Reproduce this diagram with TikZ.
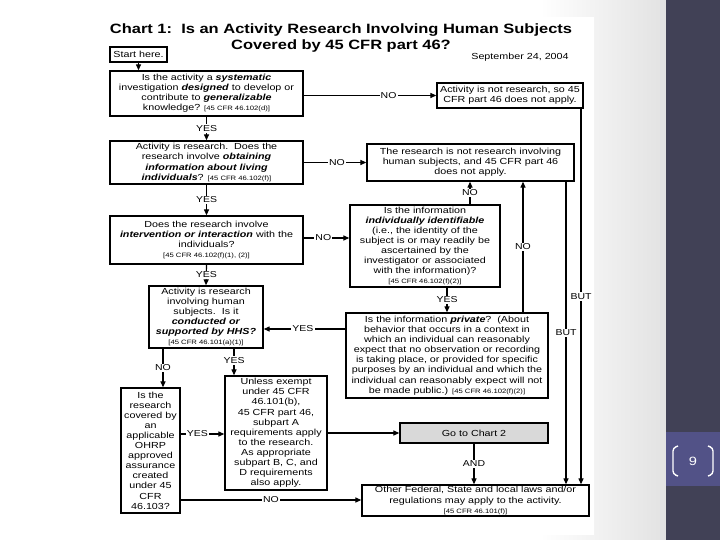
\documentclass[tikz,border=0pt]{standalone}
\usepackage{fontspec}
\setmainfont{Liberation Sans}[FakeStretch=1.22]
\usetikzlibrary{arrows.meta}
\definecolor{strip}{RGB}{65,65,86}
\definecolor{band}{RGB}{82,82,135}
\definecolor{bggray}{RGB}{226,226,226}
\definecolor{gofill}{RGB}{217,217,217}
\newcommand{\bix}[1]{\textbf{\textit{#1}}}
\newcommand{\rfs}{\fontsize{6.3}{8}\selectfont}
\newcommand{\bxf}{\fontsize{8.8}{10.1}\selectfont}
\begin{document}
\begin{tikzpicture}[x=1pt,y=-1pt,
  box/.style={draw, line width=1.3pt, inner sep=0pt, align=center, font=\bxf},
  conn/.style={line width=1.2pt, -{Triangle[length=6pt,width=5pt]}},
  lbl/.style={fill=white, inner sep=1.2pt, font=\fontsize{8.6}{9}\selectfont}]
\useasboundingbox (0,0) rectangle (720,540);
\fill[white] (0,0) rectangle (720,540);
\shade[left color=white, right color=bggray] (540,0) rectangle (666,540);
\fill[white] (95,17) rectangle (594,535);
\fill[strip] (666,0) rectangle (720,540);
\fill[band] (666,432) rectangle (720,486);
\draw[white, line width=1.4pt, rounded corners=3pt] (678,446) -- (673,448) -- (673,474) -- (678,476);
\draw[white, line width=1.4pt, rounded corners=3pt] (708,446) -- (713,448) -- (713,474) -- (708,476);
\node[text=white, font=\fontsize{12}{14}\selectfont] (pg) at (693,461) {9};

\node[font=\fontsize{13.5}{16}\selectfont\bfseries, align=center] (title) at (341,38)
  {Chart 1:\ \ Is an Activity Research Involving Human Subjects\\Covered by 45 CFR part 46?};
\node[font=\fontsize{8.8}{10}\selectfont] (date) at (520,57) {September 24, 2004};

\node[box, minimum width=57pt, minimum height=15pt] (start) at (138.5,54.5) {Start here.};
\node[box, minimum width=193pt, minimum height=45pt] (b1) at (206.5,93.5)
  {Is the activity a \bix{systematic}\\investigation \bix{designed} to develop or\\contribute to \bix{generalizable}\\knowledge? {\rfs[45 CFR 46.102(d)]}};
\node[box, minimum width=146pt, minimum height=25pt] (notres) at (510,95.5)
  {Activity is not research, so 45\\CFR part 46 does not apply.};
\node[box, minimum width=193pt, minimum height=43pt] (b2) at (206.5,162.5)
  {Activity is research.\ \ Does the\\research involve \bix{obtaining}\\\bix{information about living}\\\bix{individuals}? {\rfs[45 CFR 46.102(f)]}};
\node[box, minimum width=207pt, minimum height=37pt] (noths) at (470.5,162.5)
  {The research is not research involving\\human subjects, and 45 CFR part 46\\does not apply.};
\node[box, minimum width=193pt, minimum height=48pt] (b4) at (206.5,240)
  {Does the research involve\\\bix{intervention or interaction} with the\\individuals?\\{\rfs[45 CFR 46.102(f)(1), (2)]}};
\node[box, minimum width=150pt, minimum height=82pt] (b5) at (425,246)
  {Is the information\\\bix{individually identifiable}\\(i.e., the identity of the\\subject is or may readily be\\ascertained by the\\investigator or associated\\with the information)?\\{\rfs[45 CFR 46.102(f)(2)]}};
\node[box, minimum width=114pt, minimum height=62pt] (b6) at (206,317)
  {Activity is research\\involving human\\subjects.\ \ Is it\\\bix{conducted or}\\\bix{supported by HHS?}\\{\rfs[45 CFR 46.101(a)(1)]}};
\node[box, minimum width=202pt, minimum height=85pt] (b7) at (447,355.5)
  {Is the information \bix{private}?\ \ (About\\behavior that occurs in a context in\\which an individual can reasonably\\expect that no observation or recording\\is taking place, or provided for specific\\purposes by an individual and which the\\individual can reasonably expect will not\\be made public.) {\rfs[45 CFR 46.102(f)(2)]}};
\node[box, minimum width=59pt, minimum height=125pt] (b8) at (150.5,450.5)
  {Is the\\research\\covered by\\an\\applicable\\OHRP\\approved\\assurance\\created\\under 45\\CFR\\46.103?};
\node[box, minimum width=102pt, minimum height=114pt] (b9) at (276,433)
  {Unless exempt\\under 45 CFR\\46.101(b),\\45 CFR part 46,\\subpart A\\requirements apply\\to the research.\\As appropriate\\subpart B, C, and\\D requirements\\also apply.};
\node[box, fill=gofill, minimum width=148pt, minimum height=20pt] (goto) at (474,433) {Go to Chart 2};
\node[box, minimum width=227pt, minimum height=31pt] (bottom) at (475.5,500.5)
  {Other Federal, State and local laws and/or\\regulations may apply to the activity.\\{\rfs[45 CFR 46.101(f)]}};

\draw[conn] (start.south) -- (start.south |- b1.north);
\draw[conn] (b1.east |- notres.west) -- node[lbl, pos=0.64]{NO} (notres.west);
\draw[conn] (b1.south) -- node[lbl]{YES} (b2.north);
\draw[conn] (b2.east |- noths.west) -- node[lbl, pos=0.53]{NO} (noths.west);
\draw[conn] (b2.south) -- node[lbl]{YES} (b4.north);
\draw[conn] (b4.east |- 0,238) -- node[lbl, pos=0.43]{NO} (b5.west |- 0,238);
\draw[conn] (470,0 |- b5.north) -- node[lbl]{NO} (470,0 |- noths.south);
\draw[conn] (b4.south) -- node[lbl]{YES} (206,0 |- b6.north);
\draw[conn] (447,0 |- b5.south) -- node[lbl]{YES} (447,0 |- b7.north);
\draw[conn] (b7.west |- 0,329) -- node[lbl, pos=0.52]{YES} (b6.east |- 0,329);
\draw[conn] (163,0 |- b6.south) -- node[lbl]{NO} (163,0 |- b8.north);
\draw[conn] (234,0 |- b6.south) -- node[lbl, pos=0.45]{YES} (234,0 |- b9.north);
\draw[conn] (b8.east |- 0,434) -- node[lbl, pos=0.38]{YES} (b9.west |- 0,434);
\draw[conn] (b9.east |- 0,433) -- (goto.west);
\draw[conn] (goto.south) -- node[lbl]{AND} (goto.south |- bottom.north);
\draw[conn] (b8.east |- 0,500) -- node[lbl]{NO} (bottom.west |- 0,500);
\draw[conn] (581,0 |- notres.south) -- node[lbl]{BUT} (581,0 |- bottom.north);
\draw[conn] (566,0 |- noths.south) -- node[lbl]{BUT} (566,0 |- bottom.north);
\draw[conn] (523,0 |- b7.north) -- node[lbl]{NO} (523,0 |- noths.south);
\end{tikzpicture}
\end{document}
